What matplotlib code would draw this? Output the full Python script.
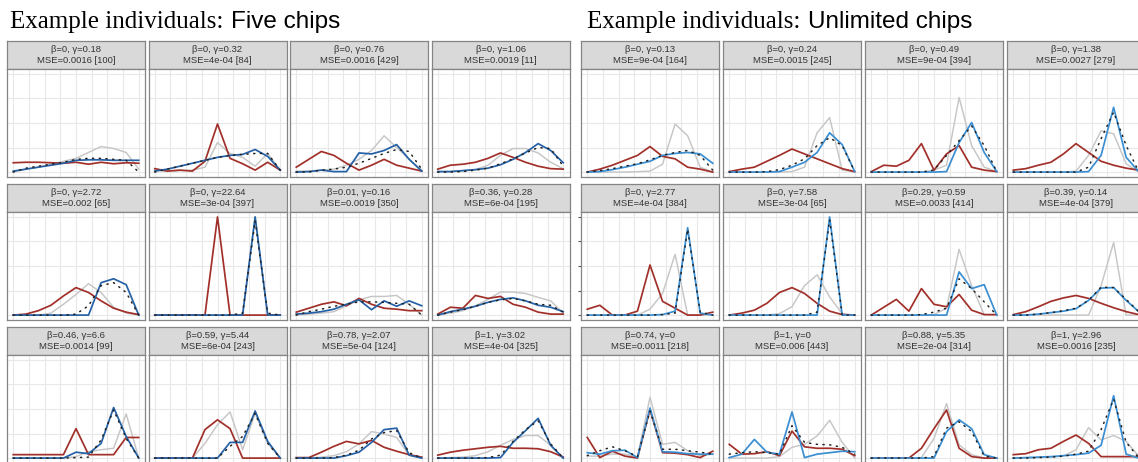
import matplotlib
matplotlib.use("Agg")
import matplotlib.pyplot as plt

# Chip positions along the response scale (11 bins)
bins = list(range(11))

# ---------------------------------------------------------------- Five chips
five_params = ["β=0, γ=0.18", "β=0, γ=0.32", "β=0, γ=0.76", "β=0, γ=1.06",
               "β=0, γ=2.72", "β=0, γ=22.64", "β=0.01, γ=0.16", "β=0.36, γ=0.28",
               "β=0.46, γ=6.6", "β=0.59, γ=5.44", "β=0.78, γ=2.07", "β=1, γ=3.02"]
five_mse = ["MSE=0.0016 [100]", "MSE=4e-04 [84]", "MSE=0.0016 [429]", "MSE=0.0019 [11]",
            "MSE=0.002 [65]", "MSE=3e-04 [397]", "MSE=0.0019 [350]", "MSE=6e-04 [195]",
            "MSE=0.0014 [99]", "MSE=6e-04 [243]", "MSE=5e-04 [124]", "MSE=4e-04 [325]"]

five_prior = [
    [0.095, 0.10, 0.10, 0.095, 0.09, 0.10, 0.08, 0.10, 0.085, 0.095, 0.09],
    [0.035, 0.01, 0.02, 0.01, 0.11, 0.49, 0.14, 0.085, 0.02, 0.10, 0.02],
    [0.05, 0.13, 0.21, 0.17, 0.09, 0.02, 0.07, 0.13, 0.07, 0.04, 0.01],
    [0.03, 0.07, 0.08, 0.10, 0.14, 0.195, 0.15, 0.10, 0.06, 0.035, 0.03],
    [0.0, 0.01, 0.045, 0.10, 0.195, 0.28, 0.23, 0.145, 0.07, 0.03, 0.005],
    [0, 0, 0, 0, 0, 1.0, 0, 0, 0, 0, 0],
    [0.03, 0.07, 0.11, 0.135, 0.095, 0.17, 0.11, 0.07, 0.06, 0.045, 0.045],
    [0.01, 0.08, 0.07, 0.20, 0.17, 0.19, 0.11, 0.08, 0.03, 0.01, 0.01],
    [0.035, 0.035, 0.035, 0.035, 0.035, 0.30, 0.035, 0.035, 0.035, 0.21, 0.21],
    [0, 0, 0, 0, 0.29, 0.39, 0.30, 0, 0, 0, 0],
    [0.005, 0.005, 0.06, 0.12, 0.17, 0.145, 0.18, 0.11, 0.07, 0.035, 0.01],
    [0.03, 0.06, 0.08, 0.095, 0.11, 0.12, 0.10, 0.10, 0.095, 0.065, 0.01],
]
five_likelihood = [
    [0.0, 0.03, 0.05, 0.08, 0.11, 0.14, 0.20, 0.26, 0.24, 0.20, 0.03],
    [0.02, 0.01, 0.015, 0.02, 0.05, 0.30, 0.19, 0.15, 0.06, 0.19, 0.02],
    [0.01, 0.01, 0.02, 0.03, 0.07, 0.13, 0.22, 0.37, 0.25, 0.13, 0.02],
    [0.005, 0.005, 0.015, 0.025, 0.07, 0.17, 0.24, 0.24, 0.195, 0.10, 0.035],
    [0, 0, 0, 0.02, 0.11, 0.21, 0.32, 0.23, 0.08, 0.02, 0.0],
    [0, 0, 0, 0, 0, 0, 0, 0, 1.0, 0, 0],
    [0, 0.01, 0.02, 0.035, 0.095, 0.155, 0.19, 0.19, 0.20, 0.11, 0.0],
    [0, 0.02, 0.045, 0.095, 0.16, 0.235, 0.235, 0.22, 0.18, 0.145, 0.02],
    [0, 0, 0, 0, 0, 0.015, 0.065, 0.085, 0.10, 0.45, 0.0],
    [0, 0, 0, 0, 0.15, 0.34, 0.47, 0.085, 0.455, 0.15, 0],
    [0, 0, 0.01, 0.025, 0.065, 0.145, 0.27, 0.245, 0.21, 0.03, 0],
    [0, 0.005, 0.01, 0.025, 0.065, 0.13, 0.19, 0.23, 0.23, 0.13, 0],
]
five_response = [
    [0.01, 0.03, 0.05, 0.07, 0.09, 0.12, 0.125, 0.125, 0.12, 0.12, 0.12],
    [0.01, 0.03, 0.06, 0.09, 0.12, 0.15, 0.17, 0.18, 0.23, 0.16, 0.02],
    [0.0, 0.005, 0.02, 0.005, 0.005, 0.195, 0.185, 0.22, 0.28, 0.13, 0.01],
    [0.005, 0.005, 0.015, 0.025, 0.04, 0.075, 0.13, 0.20, 0.29, 0.22, 0.095],
    [0, 0, 0, 0, 0, 0, 0, 0.33, 0.37, 0.31, 0.0],
    [0, 0, 0, 0, 0, 0, 0, 0, 1.0, 0, 0],
    [0.01, 0.02, 0.035, 0.06, 0.11, 0.155, 0.055, 0.145, 0.09, 0.145, 0.095],
    [0, 0.035, 0.06, 0.09, 0.13, 0.16, 0.175, 0.145, 0.10, 0.08, 0.035],
    [0, 0, 0, 0, 0, 0.06, 0.045, 0.15, 0.515, 0.22, 0],
    [0, 0, 0, 0, 0, 0, 0.16, 0.16, 0.48, 0.17, 0],
    [0, 0, 0, 0, 0.025, 0.06, 0.16, 0.29, 0.305, 0.03, 0],
    [0, 0, 0, 0, 0, 0.005, 0.16, 0.28, 0.405, 0.13, 0],
]
five_fit = [
    [0.0, 0.04, 0.06, 0.08, 0.10, 0.13, 0.14, 0.14, 0.13, 0.12, 0.0],
    [0.0, 0.03, 0.06, 0.09, 0.12, 0.15, 0.17, 0.18, 0.19, 0.19, 0.02],
    [0.0, 0.0, 0.02, 0.03, 0.05, 0.09, 0.14, 0.19, 0.23, 0.21, 0.03],
    [0.0, 0.0, 0.005, 0.02, 0.04, 0.085, 0.135, 0.195, 0.25, 0.24, 0.06],
    [0, 0, 0, 0, 0, 0.01, 0.095, 0.30, 0.33, 0.23, 0.0],
    [0, 0, 0, 0, 0, 0, 0, 0.02, 0.96, 0.02, 0],
    [0, 0.035, 0.06, 0.09, 0.11, 0.135, 0.135, 0.13, 0.12, 0.11, 0.0],
    [0, 0.03, 0.055, 0.09, 0.13, 0.155, 0.17, 0.145, 0.11, 0.10, 0.03],
    [0, 0, 0, 0, 0, 0.005, 0.01, 0.185, 0.49, 0.20, 0],
    [0, 0, 0, 0, 0, 0, 0.12, 0.22, 0.455, 0.15, 0],
    [0, 0, 0, 0.005, 0.03, 0.08, 0.195, 0.26, 0.28, 0.055, 0],
    [0, 0, 0, 0, 0.005, 0.03, 0.17, 0.29, 0.38, 0.145, 0],
]

# ----------------------------------------------------------- Unlimited chips
unl_params = ["β=0, γ=0.13", "β=0, γ=0.24", "β=0, γ=0.49", "β=0, γ=1.38",
              "β=0, γ=2.77", "β=0, γ=7.58", "β=0.29, γ=0.59", "β=0.39, γ=0.14",
              "β=0.74, γ=0", "β=1, γ=0", "β=0.88, γ=5.35", "β=1, γ=2.96"]
unl_mse = ["MSE=9e-04 [164]", "MSE=0.0015 [245]", "MSE=9e-04 [394]", "MSE=0.0027 [279]",
           "MSE=4e-04 [384]", "MSE=3e-04 [65]", "MSE=0.0033 [414]", "MSE=4e-04 [379]",
           "MSE=0.0011 [218]", "MSE=0.006 [443]", "MSE=2e-04 [314]", "MSE=0.0016 [235]"]

unl_prior = [
    [0.0, 0.03, 0.07, 0.12, 0.17, 0.26, 0.16, 0.135, 0.05, 0.03, 0.0],
    [0.005, 0.03, 0.05, 0.11, 0.17, 0.235, 0.185, 0.135, 0.085, 0.035, 0.005],
    [0.005, 0.07, 0.06, 0.12, 0.29, 0.02, 0.185, 0.27, 0.05, 0.02, 0.005],
    [0.02, 0.035, 0.07, 0.10, 0.185, 0.29, 0.20, 0.11, 0.07, 0.04, 0.02],
    [0.06, 0.10, 0, 0, 0.04, 0.51, 0.14, 0.07, 0, 0, 0.03],
    [0, 0.02, 0.05, 0.12, 0.23, 0.28, 0.22, 0.12, 0.04, 0.005, 0],
    [0, 0.08, 0.16, 0.04, 0.27, 0.11, 0.085, 0.21, 0.05, 0.005, 0.005],
    [0.005, 0.035, 0.085, 0.14, 0.175, 0.20, 0.17, 0.12, 0.075, 0.035, 0.005],
    [0.21, 0.005, 0.07, 0.02, 0, 0.495, 0.055, 0.05, 0.035, 0.005, 0.07],
    [0.14, 0.04, 0.045, 0.065, 0.025, 0.275, 0.115, 0.10, 0.10, 0.09, 0.025],
    [0, 0, 0, 0, 0.10, 0.30, 0.49, 0.10, 0.015, 0, 0],
    [0.035, 0.045, 0.085, 0.10, 0.17, 0.235, 0.15, 0.015, 0.015, 0.015, 0.015],
]
unl_likelihood = [
    [0, 0, 0, 0, 0.005, 0.01, 0.08, 0.49, 0.37, 0.05, 0.0],
    [0, 0, 0, 0, 0, 0.005, 0.05, 0.40, 0.555, 0.02, 0.0],
    [0, 0, 0, 0, 0, 0.02, 0.07, 0.76, 0.27, 0.05, 0.005],
    [0, 0, 0, 0, 0, 0.01, 0.17, 0.42, 0.39, 0.085, 0.0],
    [0, 0, 0, 0, 0, 0.06, 0.22, 0.62, 0.0, 0, 0],
    [0, 0, 0, 0, 0.015, 0.085, 0.30, 0.41, 0.185, 0.015, 0],
    [0, 0, 0, 0, 0, 0.005, 0.07, 0.67, 0.30, 0.005, 0],
    [0, 0, 0, 0, 0, 0, 0, 0.30, 0.74, 0, 0],
    [0.02, 0.02, 0.04, 0.04, 0.01, 0.62, 0.14, 0.16, 0.075, 0.025, 0.04],
    [0, 0, 0, 0, 0.015, 0.11, 0.14, 0.225, 0.385, 0.16, 0],
    [0, 0, 0, 0, 0.005, 0.20, 0.555, 0.135, 0.035, 0, 0],
    [0, 0, 0.005, 0.01, 0.02, 0.085, 0.31, 0.185, 0.23, 0.17, 0.02],
]
unl_response = [
    [0.0, 0.005, 0.025, 0.05, 0.08, 0.11, 0.17, 0.19, 0.20, 0.185, 0.09],
    [0, 0, 0, 0, 0.005, 0.05, 0.10, 0.20, 0.40, 0.28, 0.005],
    [0, 0, 0, 0, 0, 0, 0.005, 0.30, 0.505, 0.20, 0.005],
    [0, 0, 0, 0, 0, 0, 0.005, 0.17, 0.66, 0.15, 0.005],
    [0, 0, 0, 0, 0, 0, 0.005, 0.04, 0.89, 0.02, 0.0],
    [0, 0, 0, 0, 0, 0, 0, 0, 1.0, 0, 0],
    [0, 0, 0, 0, 0, 0, 0, 0.44, 0.27, 0.31, 0],
    [0, 0, 0.01, 0.025, 0.04, 0.065, 0.15, 0.275, 0.28, 0.15, 0.035],
    [0.055, 0.04, 0.075, 0.08, 0.005, 0.51, 0.065, 0.06, 0.045, 0.04, 0.04],
    [0.005, 0.04, 0.19, 0.06, 0.04, 0.47, 0.005, 0.04, 0.055, 0.07, 0.065],
    [0, 0, 0, 0, 0, 0, 0.27, 0.39, 0.30, 0.035, 0],
    [0, 0.005, 0.01, 0.015, 0.025, 0.035, 0.05, 0.13, 0.635, 0.04, 0],
]
unl_fit = [
    [0.0, 0.015, 0.035, 0.06, 0.085, 0.125, 0.17, 0.20, 0.22, 0.17, 0.02],
    [0, 0, 0, 0.005, 0.025, 0.07, 0.135, 0.27, 0.35, 0.27, 0.005],
    [0, 0, 0, 0, 0, 0.02, 0.17, 0.32, 0.47, 0.27, 0.005],
    [0, 0, 0, 0, 0, 0, 0.05, 0.34, 0.61, 0.27, 0.005],
    [0, 0, 0, 0, 0, 0, 0.005, 0.02, 0.875, 0.03, 0],
    [0, 0, 0, 0, 0, 0, 0, 0.03, 0.97, 0, 0],
    [0, 0, 0, 0, 0.005, 0.03, 0.07, 0.37, 0.27, 0.135, 0],
    [0, 0, 0.01, 0.025, 0.045, 0.07, 0.15, 0.285, 0.28, 0.16, 0.035],
    [0.025, 0.075, 0.115, 0.075, 0.015, 0.48, 0.09, 0.09, 0.075, 0.06, 0.04],
    [0.04, 0.055, 0.065, 0.055, 0.04, 0.33, 0.16, 0.14, 0.135, 0.11, 0.04],
    [0, 0, 0, 0, 0, 0.015, 0.305, 0.37, 0.27, 0.02, 0],
    [0, 0, 0.005, 0.01, 0.02, 0.04, 0.07, 0.29, 0.60, 0.16, 0.005],
]

# ------------------------------------------------------------------- styling
W, H = 1138, 462
SERIF = "Liberation Serif"
SANS = "Liberation Sans"
RED = "#a2302a"
GREY = "#c6c6c6"
BLUE_FIVE = "#2461a6"
BLUE_UNL = "#3a8ed2"
STRIP_FILL = "#d9d9d9"
EDGE = "#858585"
GRID = "#e8e8e8"
GRID_Y = [0, 0.25, 0.5, 0.75, 1.0]

ROW_TOPS = [41, 184, 327]
STRIP_H = 28
PANEL_H = 108
PANEL_W = 138
GROUPS = [
    dict(lefts=[7, 148.5, 290, 431.5], params=five_params, mse=five_mse,
         prior=five_prior, lik=five_likelihood, resp=five_response, fit=five_fit,
         blue=BLUE_FIVE, title="Five chips", title_x=10, ticked=None),
    dict(lefts=[581, 723, 865, 1007], params=unl_params, mse=unl_mse,
         prior=unl_prior, lik=unl_likelihood, resp=unl_response, fit=unl_fit,
         blue=BLUE_UNL, title="Unlimited chips", title_x=587, ticked=4),
]

fig = plt.figure(figsize=(W / 100, H / 100), dpi=100)
fig.patch.set_facecolor("white")


def box(left, top, width, height):
    return [left / W, 1 - (top + height) / H, width / W, height / H]


def draw_strip(left, top, line1, line2):
    ax = fig.add_axes(box(left, top, PANEL_W, STRIP_H))
    ax.set_facecolor(STRIP_FILL)
    ax.set_xticks([])
    ax.set_yticks([])
    for s in ax.spines.values():
        s.set_color(EDGE)
        s.set_linewidth(0.9)
    ax.text(0.5, 0.70, line1, ha="center", va="center", transform=ax.transAxes,
            fontsize=6.8, family=SANS, color="#333333")
    ax.text(0.5, 0.30, line2, ha="center", va="center", transform=ax.transAxes,
            fontsize=6.8, family=SANS, color="#333333")


def draw_panel(left, top, prior, lik, resp, fit, blue, left_ticks=False):
    ax = fig.add_axes(box(left, top, PANEL_W, PANEL_H))
    ax.set_facecolor("white")
    ax.set_xlim(-0.5, 10.5)
    ax.set_ylim(-0.05, 1.05)
    for k in range(9):
        ax.axvline(k * 1.25, color=GRID, lw=0.8, zorder=0)
    for yv in GRID_Y:
        ax.axhline(yv, color=GRID, lw=0.8, zorder=0)
    ax.plot(bins, lik, color=GREY, lw=1.05, zorder=2)
    ax.plot(bins, prior, color=RED, lw=1.25, zorder=3)
    ax.plot(bins, resp, color=blue, lw=1.25, zorder=4)
    ax.plot(bins, fit, color="#222222", lw=1.1, ls=(0, (0.8, 3.6)),
            dash_capstyle="round", zorder=5)
    ax.set_xticks([])
    if left_ticks:
        ax.set_yticks(GRID_Y)
        ax.set_yticklabels([])
        ax.tick_params(axis="y", length=2.5, width=0.8, color="#555555")
    else:
        ax.set_yticks([])
    for s in ax.spines.values():
        s.set_color(EDGE)
        s.set_linewidth(0.9)
        s.set_zorder(6)


for g in GROUPS:
    for i in range(12):
        r, c = divmod(i, 4)
        left = g["lefts"][c]
        top = ROW_TOPS[r]
        draw_strip(left, top, g["params"][i], g["mse"][i])
        draw_panel(left, top + STRIP_H, g["prior"][i], g["lik"][i],
                   g["resp"][i], g["fit"][i], g["blue"],
                   left_ticks=(g["ticked"] == i))

# Group titles: serif lead-in followed by a sans-serif group name
renderer = fig.canvas.get_renderer()
for g in GROUPS:
    t1 = fig.text(g["title_x"] / W, 1 - 28 / H, "Example individuals:",
                  family=SERIF, fontsize=18, color="black", va="baseline")
    bb = t1.get_window_extent(renderer=renderer)
    fig.text((bb.x1 + 8) / W, 1 - 28 / H, g["title"], family=SANS,
             fontsize=17.5, color="black", va="baseline")

fig.savefig("out.png", dpi=100, facecolor="white")
